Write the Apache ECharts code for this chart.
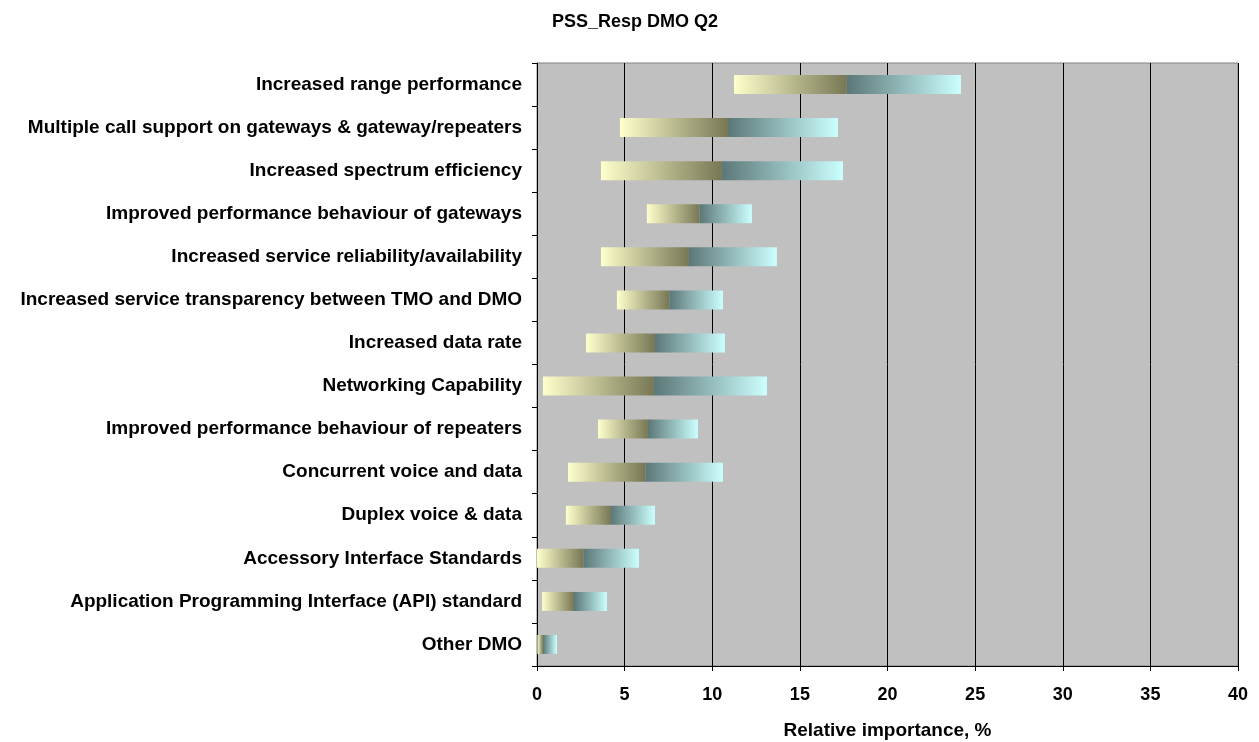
<!DOCTYPE html>
<html><head><meta charset="utf-8">
<script src="https://cdn.jsdelivr.net/npm/echarts@6/dist/echarts.min.js"></script>
<style>html,body{margin:0;padding:0;background:#fff}#c{width:1259px;height:742px}</style>
</head><body><div id="c"></div>
<script>
var categories = [
  "Increased range performance",
  "Multiple call support on gateways & gateway/repeaters",
  "Increased spectrum efficiency",
  "Improved performance behaviour of gateways",
  "Increased service reliability/availability",
  "Increased service transparency between TMO and DMO",
  "Increased data rate",
  "Networking Capability",
  "Improved performance behaviour of repeaters",
  "Concurrent voice and data",
  "Duplex voice & data",
  "Accessory Interface Standards",
  "Application Programming Interface (API) standard",
  "Other DMO"
];
var lowValues  = [11.24, 4.73, 3.65, 6.27, 3.65, 4.56, 2.80, 0.34, 3.48, 1.77, 1.65, 0.00, 0.29, 0.02];
var midValues  = [17.68, 10.90, 10.55, 9.28, 8.67, 7.55, 6.73, 6.67, 6.33, 6.18, 4.22, 2.64, 2.11, 0.34];
var highValues = [24.19, 17.17, 17.46, 12.26, 13.69, 10.61, 10.72, 13.12, 9.18, 10.61, 6.73, 5.82, 3.99, 1.14];
var xTicks = [0, 5, 10, 15, 20, 25, 30, 35, 40];

var FONT = "'Liberation Sans', Arial, sans-serif";
var lowerSeg = midValues.map(function(m, i){ return +(m - lowValues[i]).toFixed(3); });
var upperSeg = highValues.map(function(h, i){ return +(h - midValues[i]).toFixed(3); });

var gradLow = new echarts.graphic.LinearGradient(0, 0, 1, 0, [
  {offset: 0, color: '#FFFFCC'}, {offset: 1, color: '#777755'}]);
var gradHigh = new echarts.graphic.LinearGradient(0, 0, 1, 0, [
  {offset: 0, color: '#5C7777'}, {offset: 1, color: '#CCFFFF'}]);

var chart = echarts.init(document.getElementById('c'), null, {renderer: 'canvas'});
chart.setOption({
  animation: false,
  backgroundColor: '#ffffff',
  title: {
    text: 'PSS_Resp DMO Q2', left: 630, top: 8, textAlign: 'center',
    textStyle: {fontFamily: FONT, fontSize: 18, fontWeight: 'bold', color: '#000'}
  },
  grid: {
    left: 537, right: 21, top: 63, bottom: 76,
    containLabel: false, outerBoundsMode: 'none',
    show: true, backgroundColor: '#C0C0C0', borderColor: '#808080', borderWidth: 1
  },
  xAxis: {
    type: 'value', min: 0, max: 40, interval: 5,
    name: 'Relative importance, %', nameLocation: 'middle', nameGap: 55,
    nameTextStyle: {fontFamily: FONT, fontSize: 19, fontWeight: 'bold', color: '#000'},
    axisLine: {show: true, lineStyle: {color: '#000', width: 1}},
    axisTick: {show: true, length: 5, lineStyle: {color: '#000'}},
    axisLabel: {fontFamily: FONT, fontSize: 18, fontWeight: 'bold', color: '#000', margin: 20,
      formatter: function(v){ return xTicks.indexOf(v) >= 0 ? String(v) : ''; }},
    splitLine: {show: true, lineStyle: {color: '#000', width: 1}}
  },
  yAxis: {
    type: 'category', data: categories, inverse: true,
    axisLine: {show: true, lineStyle: {color: '#000', width: 1}},
    axisTick: {show: true, length: 5, inside: false, lineStyle: {color: '#000'}},
    axisLabel: {fontFamily: FONT, fontSize: 19, fontWeight: 'bold', color: '#000', margin: 15,
      padding: [4, 0, 0, 0]},
    splitLine: {show: false}
  },
  series: [
    {type: 'bar', stack: 's', data: lowValues, barWidth: 19,
      itemStyle: {color: 'rgba(0,0,0,0)'}, silent: true},
    {type: 'bar', stack: 's', data: lowerSeg, barWidth: 19, itemStyle: {color: gradLow}},
    {type: 'bar', stack: 's', data: upperSeg, barWidth: 19, itemStyle: {color: gradHigh}}
  ]
});
</script></body></html>
